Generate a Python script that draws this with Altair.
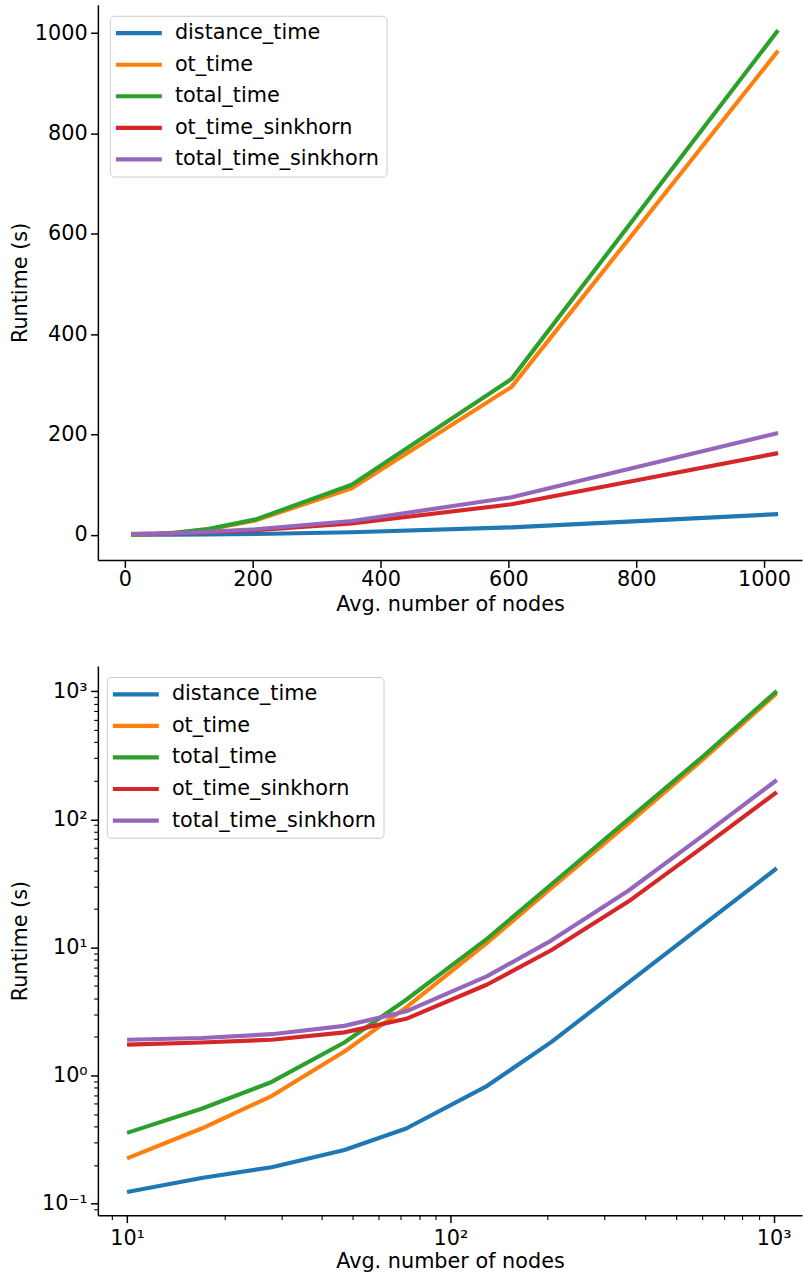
import altair as alt
import pandas as pd

# ---- data ----
nodes = [10, 17, 28, 47, 73, 130, 205, 355, 605, 1022]
distance_time = [0.123, 0.158, 0.192, 0.262, 0.385, 0.83, 1.82, 5.3, 15.0, 41.5]
ot_time = [0.225, 0.385, 0.69, 1.54, 3.4, 10.9, 29.0, 93.0, 295.0, 965.0]
total_time = [0.356, 0.55, 0.89, 1.81, 3.9, 11.7, 31.0, 100.0, 311.0, 1006.0]
ot_time_sinkhorn = [1.74, 1.81, 1.90, 2.17, 2.77, 5.13, 9.5, 22.8, 61.0, 163.0]
total_time_sinkhorn = [1.90, 1.96, 2.10, 2.44, 3.17, 5.97, 11.3, 27.7, 75.0, 203.0]

series_names = ["distance_time", "ot_time", "total_time", "ot_time_sinkhorn", "total_time_sinkhorn"]
series_values = [distance_time, ot_time, total_time, ot_time_sinkhorn, total_time_sinkhorn]
colors = ["#1f77b4", "#ff7f0e", "#2ca02c", "#d62728", "#9467bd"]

lin_ticks = [0, 200, 400, 600, 800, 1000]
log_x_ticks = [9, 10, 20, 30, 40, 50, 60, 70, 80, 90, 100, 200, 300, 400, 500, 600, 700, 800, 900, 1000]
log_y_ticks = [0.09, 0.1, 0.2, 0.3, 0.4, 0.5, 0.6, 0.7, 0.8, 0.9, 1, 2, 3, 4, 5, 6, 7, 8, 9,
               10, 20, 30, 40, 50, 60, 70, 80, 90, 100, 200, 300, 400, 500, 600, 700, 800, 900, 1000]

rows = []
for name, vals in zip(series_names, series_values):
    for n, v in zip(nodes, vals):
        rows.append({"series": name, "nodes": n, "runtime": v})
df = pd.DataFrame(rows)

FONT = "DejaVu Sans"
FS = 20.8
W = 705

is_pow = "abs(log(datum.value)/LN10 - round(log(datum.value)/LN10)) < 1e-6"
e = "round(log(datum.value)/LN10)"
pow_label = (f"{is_pow} ? ({e} == -1 ? '10⁻¹' : {e} == 0 ? '10⁰' : {e} == 1 ? '10¹' : "
             f"{e} == 2 ? '10²' : '10³') : ''")
tick_size = {"condition": {"test": is_pow, "value": 7.3}, "value": 4.2}
tick_width = {"condition": {"test": is_pow, "value": 1.5}, "value": 1.1}


def legend(x, y):
    return alt.Legend(
        title=None, orient="none", legendX=x, legendY=y,
        symbolType="M-1,0H5", symbolSize=235, symbolStrokeWidth=4.17,
        symbolOffset=-3.7, labelOffset=41, rowPadding=9.6, padding=7,
        labelLimit=400,
        fillColor="rgba(255,255,255,0.85)", strokeColor="#cccccc", cornerRadius=4,
        labelFont=FONT, labelFontSize=FS, labelColor="black",
    )


def color(x, y):
    return alt.Color("series:N", sort=series_names,
                     scale=alt.Scale(domain=series_names, range=colors),
                     legend=legend(x, y))


top = alt.Chart(df).mark_line(strokeWidth=4.17, strokeJoin="round").encode(
    x=alt.X("nodes:Q",
            scale=alt.Scale(domain=[-42.2, 1059.4], nice=False, zero=False),
            axis=alt.Axis(values=lin_ticks, format="d", title="Avg. number of nodes",
                          tickSize=7.3, labelPadding=2.1, titlePadding=5)),
    y=alt.Y("runtime:Q",
            scale=alt.Scale(domain=[-50.2, 1056.6], nice=False, zero=False),
            axis=alt.Axis(values=lin_ticks, format="d", title="Runtime (s)",
                          tickSize=7.3, labelPadding=3.4,
                          titleX=-67, titleY=278, titleAngle=270,
                          titleBaseline="bottom", titleAlign="center")),
    color=color(12, 11),
).properties(width=W, height=556)

bottom = alt.Chart(df).mark_line(strokeWidth=4.17, strokeJoin="round").encode(
    x=alt.X("nodes:Q",
            scale=alt.Scale(type="log", domain=[8.124, 1223], nice=False),
            axis=alt.Axis(values=log_x_ticks, labelExpr=pow_label, title="Avg. number of nodes",
                          tickSize=tick_size, tickWidth=tick_width,
                          labelPadding=6.0, titlePadding=3.5)),
    y=alt.Y("runtime:Q",
            scale=alt.Scale(type="log", domain=[0.0809, 1578], nice=False),
            axis=alt.Axis(values=log_y_ticks, labelExpr=pow_label, title="Runtime (s)",
                          tickSize=tick_size, tickWidth=tick_width, labelPadding=3.4,
                          titleX=-67, titleY=275, titleAngle=270,
                          titleBaseline="bottom", titleAlign="center")),
    color=color(9, 11),
).properties(width=W, height=550)

chart = alt.vconcat(top, bottom, spacing=50).resolve_scale(
    x="independent", y="independent", color="independent"
).properties(
    padding={"left": 9, "top": 3, "right": 0, "bottom": 0}
).configure_axis(
    labelFont=FONT, labelFontSize=FS, titleFont=FONT, titleFontSize=FS,
    titleFontWeight="normal", labelColor="black", titleColor="black",
    domainColor="black", tickColor="black", domainWidth=1.5, tickWidth=1.5,
    grid=False, labelFlush=False, labelOverlap=False,
).configure_view(stroke="transparent")

chart.save("out.html", embed_options={"renderer": "svg", "actions": False})
